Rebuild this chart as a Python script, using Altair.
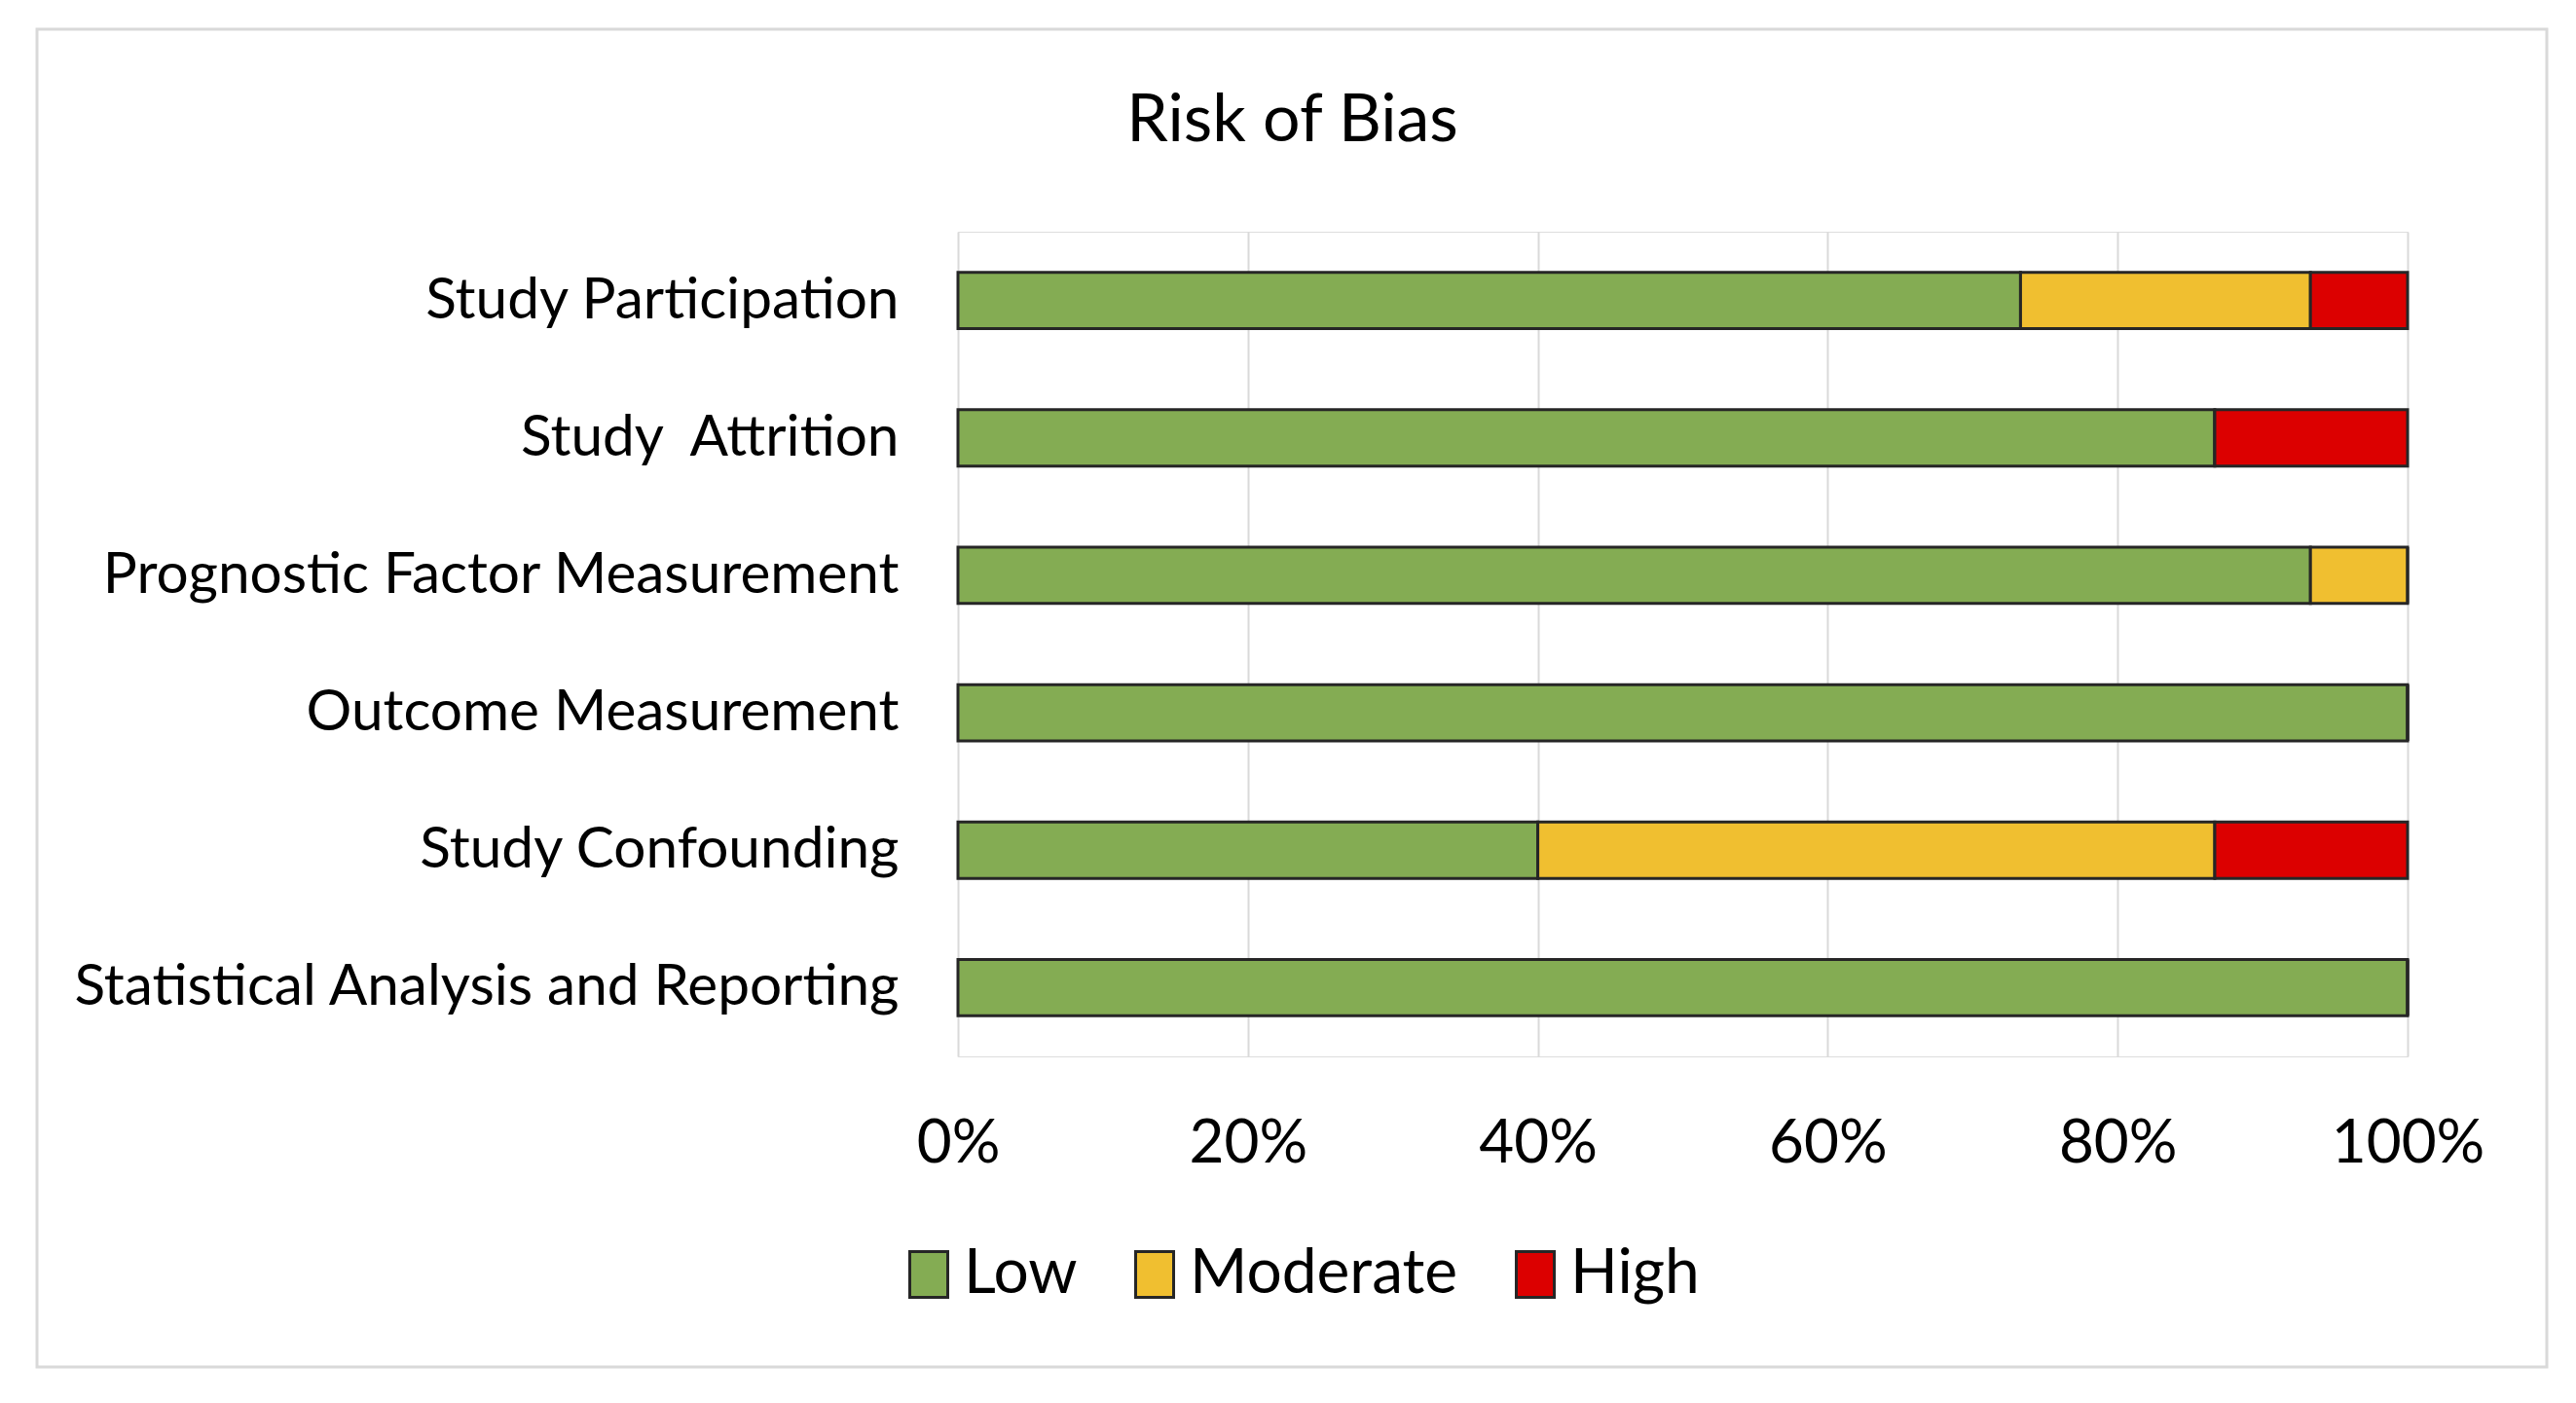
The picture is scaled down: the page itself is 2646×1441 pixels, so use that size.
import altair as alt
import pandas as pd

categories = [
    "Study Participation",
    "Study \u00a0Attrition",
    "Prognostic Factor Measurement",
    "Outcome Measurement",
    "Study Confounding",
    "Statistical Analysis and Reporting",
]
low = [73.3, 86.7, 93.3, 100.0, 40.0, 100.0]
moderate = [20.0, 0.0, 6.7, 0.0, 46.7, 0.0]
high = [6.7, 13.3, 0.0, 0.0, 13.3, 0.0]
levels = ["Low", "Moderate", "High"]
level_colors = ["#84AC53", "#F0BF30", "#DC0000"]
x_ticks = [0, 20, 40, 60, 80, 100]

rows = []
for i, c in enumerate(categories):
    for j, (lev, vals) in enumerate(zip(levels, [low, moderate, high])):
        rows.append({"category": c, "level": lev, "order": j, "value": vals[i]})
df = pd.DataFrame(rows)

FONT = "Lato"

bars = alt.Chart(df).mark_bar(stroke="#262626", strokeWidth=3).encode(
    x=alt.X(
        "value:Q",
        stack="zero",
        scale=alt.Scale(domain=[0, 100], nice=False),
        axis=alt.Axis(
            values=x_ticks,
            labelExpr="datum.value + '%'",
            title=None,
            ticks=False,
            domain=False,
            grid=True,
            gridColor="#d9d9d9",
            gridWidth=2,
            labelFlush=False,
            labelFont=FONT,
            labelFontSize=62,
            labelColor="#000000",
            labelPadding=59,
        ),
    ),
    y=alt.Y(
        "category:N",
        sort=categories,
        scale=alt.Scale(paddingInner=0.59, paddingOuter=0.295),
        axis=alt.Axis(
            title=None,
            ticks=False,
            domain=False,
            labelFont=FONT,
            labelFontSize=58.5,
            labelColor="#000000",
            labelPadding=61,
            labelLimit=2000,
        ),
    ),
    color=alt.Color(
        "level:N",
        scale=alt.Scale(domain=levels, range=level_colors),
        sort=levels,
        legend=alt.Legend(
            title=None,
            orient="none",
            direction="horizontal",
            legendX=-62,
            legendY=1039,
            symbolType="M-0.83,-1H0.83V1H-0.83Z",
            symbolSize=2209,
            symbolStrokeColor="#262626",
            symbolStrokeWidth=3,
            labelFont=FONT,
            labelFontSize=64,
            labelColor="#000000",
            labelOffset=4,
            columnPadding=47,
            labelLimit=1000,
        ),
    ),
    order=alt.Order("order:Q", sort="ascending"),
)

frame_df = pd.DataFrame({"k": [0]})
frame = alt.Chart(frame_df).mark_rect(
    fill=None, stroke="#d9d9d9", strokeWidth=3
).encode(
    x=alt.value(-946),
    x2=alt.value(1632),
    y=alt.value(-208),
    y2=alt.value(1166),
)

chart = alt.layer(frame, bars).properties(
    width=1489,
    height=847,
    padding={"left": 976, "top": 230, "right": 160, "bottom": 330},
    autosize=alt.AutoSizeParams(type="none"),
    title=alt.TitleParams(
        "Risk of Bias",
        anchor="middle",
        frame="group",
        dx=-401,
        offset=-184,
        baseline="alphabetic",
        font=FONT,
        fontSize=68,
        fontWeight="normal",
        color="#000000",
    ),
).configure_view(stroke=None).configure(background="white")

chart.save("out.html", embed_options={"renderer": "svg", "actions": False})
